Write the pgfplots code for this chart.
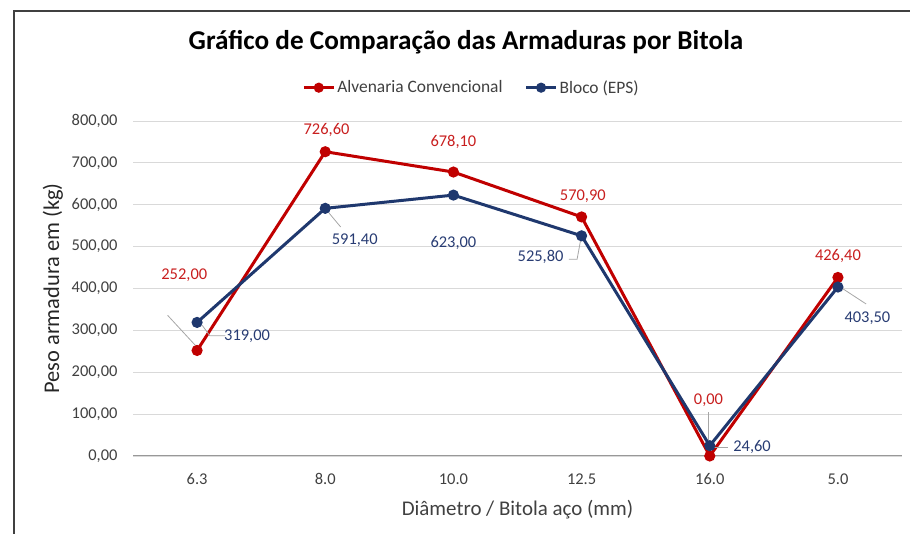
\documentclass[border=0pt]{standalone}
\usepackage{fontspec}
\setmainfont{Carlito}
\usepackage{pgfplots}
\pgfplotsset{compat=1.18}
\definecolor{cred}{RGB}{192,0,0}
\definecolor{cblue}{RGB}{31,56,110}
\definecolor{lred}{RGB}{200,30,30}
\definecolor{lblue}{RGB}{40,60,115}
\definecolor{gridc}{RGB}{217,217,217}
\definecolor{txt}{RGB}{64,64,64}
\begin{document}
\begin{tikzpicture}[x=1bp,y=1bp]
\useasboundingbox (0,0) rectangle (910,534);
\draw[line width=1.5bp, black!75] (14,0) -- (14,523) -- (912,523);
\node[font=\fontsize{27.3}{32}\selectfont\bfseries] at (466,492) {Gráfico de Comparação das Armaduras por Bitola};
\begin{axis}[
  at={(133bp,78bp)}, anchor=south west,
  scale only axis, width=769bp, height=335bp,
  xmin=-0.5, xmax=5.5, ymin=0, ymax=800,
  xtick={0,1,2,3,4,5},
  xticklabels={6.3,8.0,10.0,12.5,16.0,5.0},
  ytick={0,100,...,800},
  yticklabel={\pgfmathprintnumber[fixed,fixed zerofill,precision=2,use comma,1000 sep={}]{\tick}},
  /pgf/number format/assume math mode=true,
  ymajorgrids, grid style={gridc, line width=0.8bp},
  axis line style={draw=none},
  x axis line style={draw=none},
  major tick length=0pt,
  ticklabel style={font=\fontsize{16.5}{19}\selectfont, text=txt},
  yticklabel style={xshift=-12bp},
  xticklabel style={yshift=-14bp},
  xlabel={Diâmetro / Bitola aço (mm)},
  ylabel={Peso armadura em (kg)},
  xlabel style={font=\fontsize{21}{24}\selectfont, text=txt, yshift=-8bp},
  ylabel style={font=\fontsize{22.5}{26}\selectfont, text=black!85, yshift=2bp},
  legend style={at={(0.5,1.0)}, anchor=south, yshift=22bp, xshift=-46bp, draw=none, legend columns=2,
    font=\fontsize{17.5}{20}\selectfont, text=txt, /tikz/every even column/.append style={column sep=20bp}},
  legend image code/.code={\draw[#1] (0bp,0bp) -- (30bp,0bp); \fill[#1] (15bp,0bp) circle (3.5bp);},
  clip=false,
]
\draw[gridc!70!black, line width=1bp] (axis cs:-0.5,0) -- (axis cs:5.5,0);
\addplot[cred, line width=3bp, mark=*, mark size=4bp] coordinates {(0,252) (1,726.6) (2,678.1) (3,570.9) (4,0) (5,426.4)};
\addlegendentry{Alvenaria Convencional}
\addplot[cblue, line width=3bp, mark=*, mark size=4bp] coordinates {(0,319) (1,591.4) (2,623) (3,525.8) (4,24.6) (5,403.5)};
\addlegendentry{Bloco (EPS)}
% leader lines
\draw[black!35, line width=0.8bp] (axis cs:-0.23,336) -- (axis cs:-0.01,263);
\draw[black!35, line width=0.8bp] (axis cs:0.04,312) -- (axis cs:0.10,287) -- (axis cs:0.22,287);
\draw[black!35, line width=0.8bp] (axis cs:1.03,580) -- (axis cs:1.12,547);
\draw[black!35, line width=0.8bp] (axis cs:2.90,470) -- (axis cs:2.965,470) -- (axis cs:2.995,520);
\draw[black!35, line width=0.8bp] (axis cs:3.99,105) -- (axis cs:3.99,26);
\draw[black!35, line width=0.8bp] (axis cs:4.02,21.5) -- (axis cs:4.14,21.5);
\draw[black!35, line width=0.8bp] (axis cs:5.03,401) -- (axis cs:5.22,363);
% labels
\begin{scope}[every node/.style={font=\fontsize{16.5}{19}\selectfont}]
\node[text=lred] at (axis cs:-0.10,432) {252,00};
\node[text=lblue] at (axis cs:0.39,287) {319,00};
\node[text=lred] at (axis cs:1.01,778) {726,60};
\node[text=lblue] at (axis cs:1.23,516) {591,40};
\node[text=lred] at (axis cs:2.0,750) {678,10};
\node[text=lblue] at (axis cs:2.0,509) {623,00};
\node[text=lred] at (axis cs:3.01,621) {570,90};
\node[text=lblue] at (axis cs:2.68,475) {525,80};
\node[text=lred] at (axis cs:3.99,134) {0,00};
\node[text=lblue] at (axis cs:4.33,21.5) {24,60};
\node[text=lred] at (axis cs:5.0,478) {426,40};
\node[text=lblue] at (axis cs:5.23,330) {403,50};
\end{scope}
\end{axis}
\end{tikzpicture}
\end{document}
